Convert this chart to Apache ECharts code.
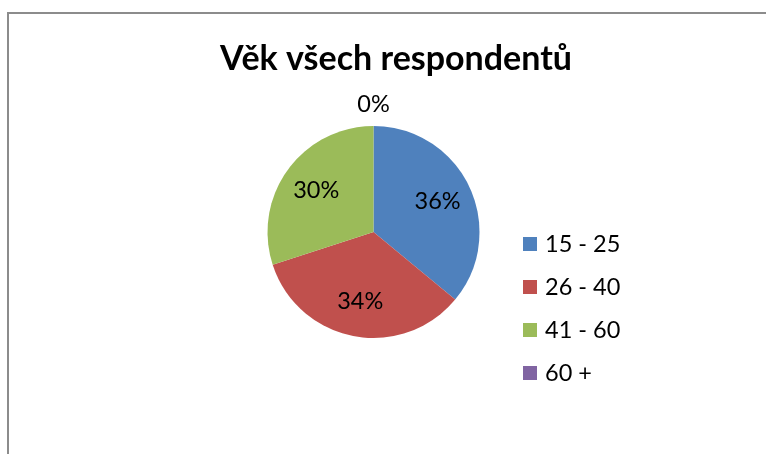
<!DOCTYPE html>
<html>
<head>
<meta charset="utf-8">
<script src="https://cdn.jsdelivr.net/npm/echarts@6/dist/echarts.min.js"></script>
<style>html,body{margin:0;padding:0;background:#fff}#c{width:766px;height:454px}</style>
</head>
<body>
<div id="c"></div>
<script>
const categories = ['15 - 25', '26 - 40', '41 - 60', '60 +'];
const values = [36, 34, 30, 0];
const colors = ['#4f81bd', '#c0504d', '#9bbb59', '#8064a2'];
const titleText = 'Věk všech respondentů';

const R = 106;
const total = values.reduce((a, b) => a + b, 0);
let acc = 0;
const data = categories.map((name, i) => {
  const mid = (acc + values[i] / 2) / total * 2 * Math.PI;
  acc += values[i];
  const labelR = values[i] === 0 ? R + 19 : R * 0.64;
  const d = labelR - R / 2;
  return {
    name, value: values[i],
    itemStyle: { color: colors[i] },
    label: { offset: [d * Math.sin(mid), -d * Math.cos(mid)] }
  };
});

const chart = echarts.init(document.getElementById('c'), null, { renderer: 'canvas' });
chart.setOption({
  animation: false,
  graphic: [{
    type: 'rect', shape: { x: 8, y: 13, width: 900, height: 600 },
    style: { fill: 'none', stroke: '#8c8c8c', lineWidth: 2 }, silent: true
  }],
  title: {
    text: titleText, left: 391, top: 37, textAlign: 'center',
    textStyle: { fontFamily: 'Lato', fontWeight: 'bold', fontSize: 34, color: '#000' }
  },
  legend: {
    orient: 'vertical', left: 523, top: 232, padding: 0, itemWidth: 14, itemHeight: 14, itemGap: 19,
    icon: 'rect',
    textStyle: { fontFamily: 'Lato', fontSize: 23.5, color: '#000', padding: [0, 0, 0, 3] },
    data: categories
  },
  series: [{
    type: 'pie', center: [373.5, 232], radius: [0, R],
    startAngle: 90, clockwise: true, stillShowZeroSum: true,
    label: {
      show: true, position: 'inside', formatter: '{d}%',
      fontFamily: 'Lato', fontSize: 23.5, color: '#000'
    },
    labelLine: { show: false },
    itemStyle: { borderWidth: 0 },
    data
  }]
});
</script>
</body>
</html>
